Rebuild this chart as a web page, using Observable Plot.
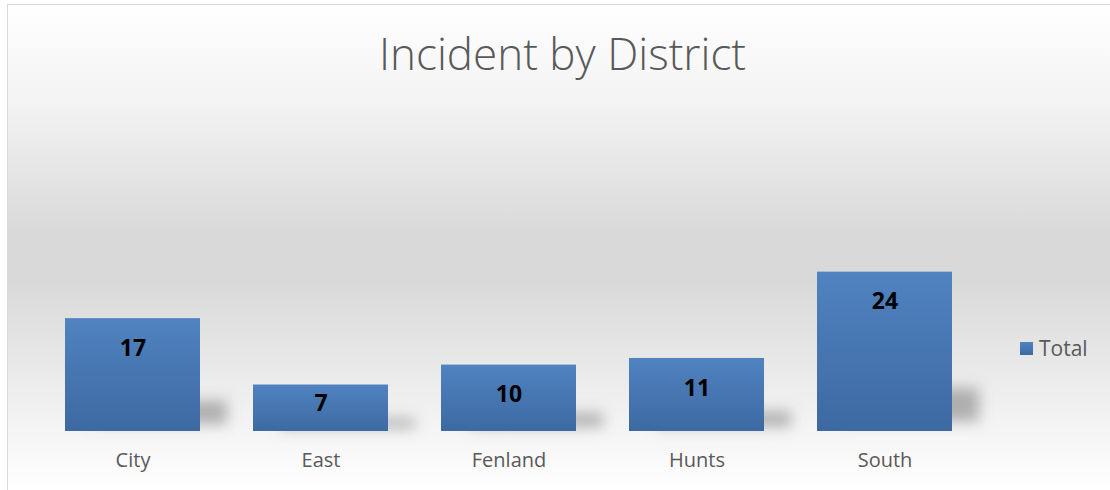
<!DOCTYPE html>
<html>
<head>
<meta charset="utf-8">
<script src="https://cdn.jsdelivr.net/npm/d3@7"></script>
<script src="https://cdn.jsdelivr.net/npm/@observablehq/plot@0.6"></script>
<style>
  html, body { margin: 0; padding: 0; background: #ffffff; }
  #wrap { position: relative; width: 1110px; height: 490px; overflow: hidden; font-family: "Open Sans", sans-serif; }
  #bg { position: absolute; left: 7px; top: 4px; width: 1300px; height: 486px;
        border-left: 1px solid #d9d9d9; border-top: 1px solid #d9d9d9;
        background: linear-gradient(to bottom, #ffffff 0%, #f3f3f3 20%, #d9d9d9 47%, #d9d9d9 57%, #eeeeee 80%, #ffffff 100%); }
  #title { position: absolute; left: 0; width: 1125px; top: 31px; text-align: center;
           font-size: 44px; font-weight: 300; color: #595959; line-height: 1; white-space: nowrap; }
  #legend { position: absolute; left: 1020px; top: 334px; display: flex; align-items: center;
            font-size: 21px; color: #595959; }
  #legend .sw { width: 13px; height: 13px; margin-right: 6px;
                background: linear-gradient(to bottom, #5083c1, #3e6aa2); }
  #chart { position: absolute; left: 0; top: 0; }
</style>
</head>
<body>
<div id="wrap">
  <div id="bg"></div>
  <div id="title">Incident by District</div>
  <div id="legend"><div class="sw"></div><span id="legendText"></span></div>
  <div id="chart"></div>
</div>
<script>
const districts = ["City", "East", "Fenland", "Hunts", "South"];
const totals = [17, 7, 10, 11, 24];
const seriesName = "Total";
const titleText = "Incident by District";

document.getElementById("legendText").textContent = seriesName;
document.getElementById("title").textContent = titleText;

const data = districts.map((d, i) => ({district: d, value: totals[i]}));

const plot = Plot.plot({
  width: 1110,
  height: 490,
  marginLeft: 37.5,
  marginRight: 131.5,
  marginTop: 231.8,
  marginBottom: 59,
  style: {background: "transparent", fontFamily: "'Open Sans', sans-serif", color: "#595959", overflow: "visible"},
  x: {domain: districts, paddingInner: 0.282, paddingOuter: 0.141, label: null},
  y: {domain: [0, 30], axis: null},
  marks: [
    Plot.barY(data, {x: "district", y1: d => d.value * 0.06, y2: d => d.value * 0.27, dx: 27, fill: "#6e6e6e", fillOpacity: 0.5}),
    Plot.barY(data, {x: "district", y: "value", fill: "url(#barGrad)"}),
    Plot.text(data, {x: "district", y: d => d.value <= 8 ? d.value * 0.6 : d.value - 4.5, text: d => String(d.value),
      fontSize: 23, fontWeight: "bold", fill: "#000000", lineAnchor: "middle"}),
    Plot.axisX({tickSize: 0, tickPadding: 21, fontSize: 20, label: null})
  ]
});

const svg = d3.select(plot);
const defs = svg.insert("defs", ":first-child");
const g = defs.append("linearGradient").attr("id", "barGrad").attr("x1", 0).attr("y1", 0).attr("x2", 0).attr("y2", 1);
g.append("stop").attr("offset", "0%").attr("stop-color", "#5083c1");
g.append("stop").attr("offset", "100%").attr("stop-color", "#3d69a1");
const f = defs.append("filter").attr("id", "blur").attr("x", "-50%").attr("y", "-50%").attr("width", "200%").attr("height", "200%");
f.append("feGaussianBlur").attr("stdDeviation", 7);
svg.selectAll("g, rect").filter(function() { return this.getAttribute("fill") === "#6e6e6e"; }).attr("filter", "url(#blur)");

document.getElementById("chart").appendChild(plot);
</script>
</body>
</html>
